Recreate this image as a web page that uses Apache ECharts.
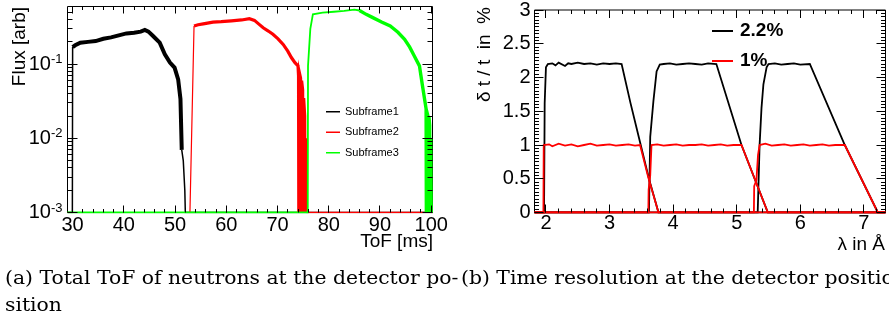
<!DOCTYPE html>
<html><head><meta charset="utf-8">
<script src="https://cdn.jsdelivr.net/npm/echarts@6/dist/echarts.min.js"></script>
<style>html,body{margin:0;padding:0;background:#fff}#c{width:889px;height:320px}</style>
</head><body><div id="c"></div>
<script>
// ---------------- (a) Total ToF of neutrons (flux, log scale; 0 = empty bin) ----------------
const sub1Tof  = [29.0, 29.95, 30.0, 30.5, 31.5, 33.0, 34.5, 36.0, 37.5, 39.0, 40.5, 42.0, 43.3, 44.1, 44.8, 45.7, 47.0, 48.0, 49.0, 49.9, 50.6, 51.05, 51.3, 51.6, 51.9, 52.0, 100.3];
const sub1Flux = [0, 0, 0.17, 0.18, 0.195, 0.2, 0.205, 0.22, 0.23, 0.245, 0.26, 0.265, 0.275, 0.29, 0.275, 0.24, 0.195, 0.136, 0.105, 0.09, 0.0625, 0.034, 0.007, 0.005, 0.002, 0, 0];

const sub2Tof  = [29.0, 52.9, 53.7, 54.5, 55.5, 57.4, 59.0, 61.0, 63.0, 64.5, 65.5, 66.3, 67.2, 68.2, 69.1, 70.1, 71.1, 72.0, 72.7, 73.4, 74.0, 74.1, 74.15, 74.25, 74.3, 74.5, 74.55, 74.65, 74.7, 74.9, 74.95, 75.05, 75.1, 75.3, 75.35, 75.45, 75.5, 75.6, 100.3];
const sub2Flux = [0, 0, 0.327, 0.34, 0.35, 0.37, 0.375, 0.385, 0.395, 0.41, 0.39, 0.35, 0.31, 0.28, 0.253, 0.22, 0.185, 0.15, 0.123, 0.105, 0.095, 0.07, 0, 0, 0.075, 0.065, 0, 0, 0.06, 0.045, 0, 0, 0.035, 0.02, 0, 0, 0.01, 0, 0];

const sub3Tof  = [29.0, 75.9, 75.95, 76.4, 76.9, 78.8, 81.0, 83.0, 85.0, 86.0, 87.3, 88.6, 90.3, 92.0, 93.5, 94.8, 95.8, 96.7, 97.7, 98.3, 99.0, 99.05, 99.15, 99.2, 99.35, 99.4, 99.5, 99.55, 99.7, 99.75, 99.85, 99.9, 100.0, 100.3];
const sub3Flux = [0, 0, 0.095, 0.3, 0.47, 0.495, 0.51, 0.525, 0.545, 0.53, 0.47, 0.425, 0.37, 0.327, 0.27, 0.217, 0.17, 0.129, 0.095, 0.051, 0.025, 0, 0, 0.022, 0.02, 0, 0, 0.02, 0.015, 0, 0, 0.01, 0, 0];

const subNames = ['Subframe1', 'Subframe2', 'Subframe3'];
const tofTicks = [30, 40, 50, 60, 70, 80, 90, 100];
const fluxDecades = [0.001, 0.01, 0.1];

// ---------------- (b) Time resolution (percent) vs wavelength (Å) ----------------
const res22Sub1Lambda = [1.82, 1.97, 1.98, 2.00, 2.03, 2.10, 2.15, 2.20, 2.30, 2.35, 2.40, 2.50, 2.60, 2.70, 2.80, 2.90, 3.00, 3.10, 3.19, 3.33, 3.48, 3.62, 3.77, 7.34];
const res22Sub1       = [0, 0, 1.62, 2.15, 2.20, 2.21, 2.18, 2.22, 2.17, 2.21, 2.20, 2.22, 2.20, 2.21, 2.19, 2.21, 2.20, 2.21, 2.20, 1.62, 1.04, 0.50, 0, 0];
const res22Sub2Lambda = [1.82, 3.62, 3.64, 3.69, 3.74, 3.79, 3.85, 3.95, 4.05, 4.15, 4.25, 4.35, 4.45, 4.55, 4.68, 5.075, 5.49, 7.34];
const res22Sub2       = [0, 0, 1.12, 1.65, 2.09, 2.19, 2.20, 2.21, 2.19, 2.20, 2.21, 2.20, 2.19, 2.21, 2.20, 1.00, 0, 0];
const res22Sub3Lambda = [1.82, 5.33, 5.36, 5.39, 5.42, 5.47, 5.50, 5.60, 5.70, 5.80, 5.90, 6.00, 6.15, 6.70, 7.22, 7.34];
const res22Sub3       = [0, 0, 1.00, 1.55, 1.90, 2.15, 2.20, 2.21, 2.19, 2.20, 2.21, 2.19, 2.20, 1.00, 0, 0];

const res1Sub1Lambda = [1.82, 1.96, 1.965, 2.05, 2.10, 2.20, 2.30, 2.40, 2.50, 2.60, 2.70, 2.80, 2.90, 3.00, 3.10, 3.20, 3.30, 3.40, 3.48, 3.61, 3.77, 7.34];
const res1Sub1       = [0, 0, 1.00, 1.01, 0.98, 1.02, 0.99, 1.01, 0.98, 1.00, 1.02, 0.99, 1.00, 1.01, 0.99, 1.00, 1.01, 0.99, 1.00, 0.52, 0, 0];
const res1Sub2Lambda = [1.82, 3.61, 3.615, 3.635, 3.64, 3.655, 3.66, 3.75, 3.85, 3.95, 4.05, 4.15, 4.25, 4.35, 4.45, 4.55, 4.65, 4.75, 4.85, 4.95, 5.075, 5.49, 7.34];
const res1Sub2       = [0, 0, 0.34, 0.34, 0.55, 0.55, 1.00, 1.01, 0.99, 1.00, 1.01, 0.99, 1.00, 1.00, 1.01, 0.99, 1.00, 1.01, 0.99, 1.00, 1.00, 0, 0];
const res1Sub3Lambda = [1.82, 5.27, 5.275, 5.31, 5.335, 5.36, 5.45, 5.55, 5.65, 5.75, 5.85, 5.95, 6.05, 6.15, 6.25, 6.35, 6.45, 6.55, 6.70, 7.22, 7.34];
const res1Sub3       = [0, 0, 0.39, 0.48, 0.85, 1.00, 1.02, 0.99, 1.00, 1.01, 0.99, 1.00, 1.01, 0.99, 1.00, 1.01, 0.99, 1.00, 1.00, 0, 0];

const resNames = ['2.2%', '1%'];
const lambdaTicks = [2, 3, 4, 5, 6, 7];
const resTicks = [0, 0.5, 1, 1.5, 2, 2.5, 3];

// ---------------- layout / style ----------------
const FONT = 'Liberation Sans';
const FLUX_MIN = 0.001, FLUX_MAX = 0.6, TOF_MIN = 29, TOF_MAX = 100.25;
const LAM_MIN = 1.82, LAM_MAX = 7.34, RES_MIN = 0, RES_MAX = 3;

// minor tick positions (regular subdivisions of the major ticks)
const tofMinor = []; for (let v = 30; v <= 100.001; v += 2) tofMinor.push(+v.toFixed(3));
const fluxMinor = []; fluxDecades.forEach(d => { for (let k = 2; k <= 9; k++) { const v = +(k * d).toFixed(4); if (v < FLUX_MAX) fluxMinor.push(v); } });
const lamMinor = []; for (let v = 2; v <= LAM_MAX; v += 0.2) lamMinor.push(+v.toFixed(3));
const resMinor = []; for (let v = 0; v <= 3.0001; v += 0.05) resMinor.push(+v.toFixed(3));

const G0 = {left: 67.5, top: 6.5, width: 365, height: 206};
const G1 = {left: 534.5, top: 6.5, width: 351, height: 206};

function pts(xs, ys, floor) { return xs.map((x, i) => [x, (floor !== undefined && ys[i] <= 0) ? floor : ys[i]]); }

function xAx(grid, min, max, ticks, margin) {
  return {type: 'value', gridIndex: grid, position: 'bottom', min, max, splitLine: {show: false},
    axisLine: {show: false}, axisTick: {show: false},
    axisLabel: {show: true, customValues: ticks, margin, fontFamily: FONT, fontSize: 20, color: '#000'}};
}
function isDecade(v) { const l = Math.log10(v); return Math.abs(l - Math.round(l)) < 1e-6; }
const yAxes = [
  {type: 'log', logBase: 10, gridIndex: 0, position: 'left', min: FLUX_MIN, max: FLUX_MAX,
   splitLine: {show: false}, axisLine: {show: false}, axisTick: {show: false}, minorTick: {show: false},
   axisLabel: {show: true, margin: 5,
     formatter: v => isDecade(v) ? '{m|10}{e|' + Math.round(Math.log10(v)) + '}' : '',
     rich: {m: {fontFamily: FONT, fontSize: 20, color: '#000'},
            e: {fontFamily: FONT, fontSize: 13, color: '#000', padding: [0, 0, 9, 0]}}}},
  {type: 'value', gridIndex: 1, position: 'left', min: RES_MIN, max: RES_MAX, interval: 0.5,
   splitLine: {show: false}, axisLine: {show: false}, axisTick: {show: false},
   axisLabel: {show: true, margin: 4, fontFamily: FONT, fontSize: 20, color: '#000'}}
];
const xAxes = [xAx(0, TOF_MIN, TOF_MAX, tofTicks, 3), xAx(1, LAM_MIN, LAM_MAX, lambdaTicks, 1)];

// inward ticks on all four sides, placed through the axes' own scales
function tickSeries(ai, values, horiz, xEdges, yEdges, len) {
  const data = [];
  values.forEach(v => {
    if (horiz) { data.push([v, yEdges[0], 0]); data.push([v, yEdges[1], 1]); }
    else { data.push([xEdges[0], v, 2]); data.push([xEdges[1], v, 3]); }
  });
  return {type: 'custom', xAxisIndex: ai, yAxisIndex: ai, silent: true, animation: false, z: 6, clip: false,
    data,
    renderItem: (params, api) => {
      const p = api.coord([api.value(0), api.value(1)]);
      const side = api.value(2);
      let x = p[0], y = p[1];
      if (side < 2) x = Math.round(x - 0.5) + 0.5; else y = Math.round(y - 0.5) + 0.5;
      const d = [[0, -len], [0, len], [len, 0], [-len, 0]][side];
      return {type: 'line', shape: {x1: x, y1: y, x2: x + d[0], y2: y + d[1]}, style: {stroke: '#000', lineWidth: 1}};
    }};
}

function line(name, data, color, width, ai, z) {
  return {type: 'line', name, data, xAxisIndex: ai, yAxisIndex: ai, symbol: 'none', showSymbol: false,
    lineStyle: {color, width, join: 'miter'}, itemStyle: {color}, animation: false, silent: true, z, clip: true};
}
// split a ToF curve into thin rising edge / thick noisy body / thin empty tail
function tofSeries(name, tof, flux, color, riseEnd, fallEnd, thinW, thickW, z) {
  const p = pts(tof, flux, FLUX_MIN);
  return [
    line(name, p.filter(q => q[0] <= riseEnd), color, thinW, 0, z),
    line(name, p.filter(q => q[0] >= riseEnd && q[0] <= fallEnd), color, thickW, 0, z),
    line(name, p.filter(q => q[0] >= fallEnd), color, 1.5, 0, z)
  ];
}
const RED = '#ff0000', GREEN = '#00ff00', BLACK = '#000000';
const series = [
  ...tofSeries(subNames[0], sub1Tof, sub1Flux, BLACK, 30.0, 51.3, 1.5, 4, 2),
  ...tofSeries(subNames[1], sub2Tof, sub2Flux, RED, 53.7, 75.6, 1.2, 3.2, 3),
  ...tofSeries(subNames[2], sub3Tof, sub3Flux, GREEN, 86.0, 100.0, 1.8, 3.4, 4),
  line(resNames[0], pts(res22Sub1Lambda, res22Sub1), BLACK, 1.8, 1, 2),
  line(resNames[0], pts(res22Sub2Lambda, res22Sub2), BLACK, 1.8, 1, 2),
  line(resNames[0], pts(res22Sub3Lambda, res22Sub3), BLACK, 1.8, 1, 2),
  line(resNames[1], pts(res1Sub1Lambda, res1Sub1), RED, 1.8, 1, 3),
  line(resNames[1], pts(res1Sub2Lambda, res1Sub2), RED, 1.8, 1, 3),
  line(resNames[1], pts(res1Sub3Lambda, res1Sub3), RED, 1.8, 1, 3),
  tickSeries(0, tofTicks, true, null, [FLUX_MIN, FLUX_MAX], 7),
  tickSeries(0, tofMinor, true, null, [FLUX_MIN, FLUX_MAX], 3.5),
  tickSeries(0, fluxDecades, false, [TOF_MIN, TOF_MAX], null, 10),
  tickSeries(0, fluxMinor, false, [TOF_MIN, TOF_MAX], null, 5),
  tickSeries(1, lambdaTicks, true, null, [RES_MIN, RES_MAX], 8),
  tickSeries(1, lamMinor, true, null, [RES_MIN, RES_MAX], 4),
  tickSeries(1, resTicks, false, [LAM_MIN, LAM_MAX], null, 9),
  tickSeries(1, resMinor, false, [LAM_MIN, LAM_MAX], null, 4.5)
];

function txt(text, x, y, size, opts) {
  opts = opts || {};
  return {type: 'text', x, y, rotation: opts.rot || 0, scaleX: opts.sx || 1, silent: true, z: 10,
    style: {text, fontFamily: opts.family || FONT, fontSize: size, fontWeight: opts.weight || 'normal', fill: '#000',
      align: opts.align || 'left', textAlign: opts.align || 'left', verticalAlign: 'middle', textVerticalAlign: 'middle'}};
}
const SERIF = 'DejaVu Serif';
const graphic = [
  txt('Flux [arb]', 20, 7, 19, {rot: Math.PI / 2, align: 'right'}),
  txt('ToF [ms]', 433, 242, 19, {align: 'right'}),
  txt('δ t / t  in  %', 485, 7, 19, {rot: Math.PI / 2, align: 'right'}),
  txt('λ in Å', 885, 245, 19, {align: 'right'}),
  txt('(a) Total ToF of neutrons at the detector po-', 5, 279, 18, {family: SERIF, sx: 1.13}),
  txt('sition', 5, 306, 18, {family: SERIF, sx: 1.13}),
  txt('(b) Time resolution at the detector position', 461, 279, 18, {family: SERIF, sx: 1.13})
];

const chart = echarts.init(document.getElementById('c'), null, {renderer: 'canvas'});
chart.setOption({
  animation: false,
  backgroundColor: '#fff',
  grid: [
    Object.assign({show: true, borderColor: '#000', borderWidth: 1, backgroundColor: 'transparent'}, G0),
    Object.assign({show: true, borderColor: '#000', borderWidth: 1, backgroundColor: 'transparent'}, G1)
  ],
  xAxis: xAxes,
  yAxis: yAxes,
  legend: [
    {data: subNames, orient: 'vertical', left: 321, top: 100, icon: 'rect', itemWidth: 14, itemHeight: 1.5, itemGap: 7,
     selectedMode: false, textStyle: {fontFamily: FONT, fontSize: 11, color: '#000', lineHeight: 13.5}},
    {data: resNames, orient: 'vertical', left: 707, top: 16, icon: 'rect', itemWidth: 21, itemHeight: 2, itemGap: 10,
     selectedMode: false, textStyle: {fontFamily: FONT, fontSize: 19, fontWeight: 'bold', color: '#000', lineHeight: 20, padding: [0, 0, 0, 2]}}
  ],
  graphic,
  series
});
</script></body></html>
